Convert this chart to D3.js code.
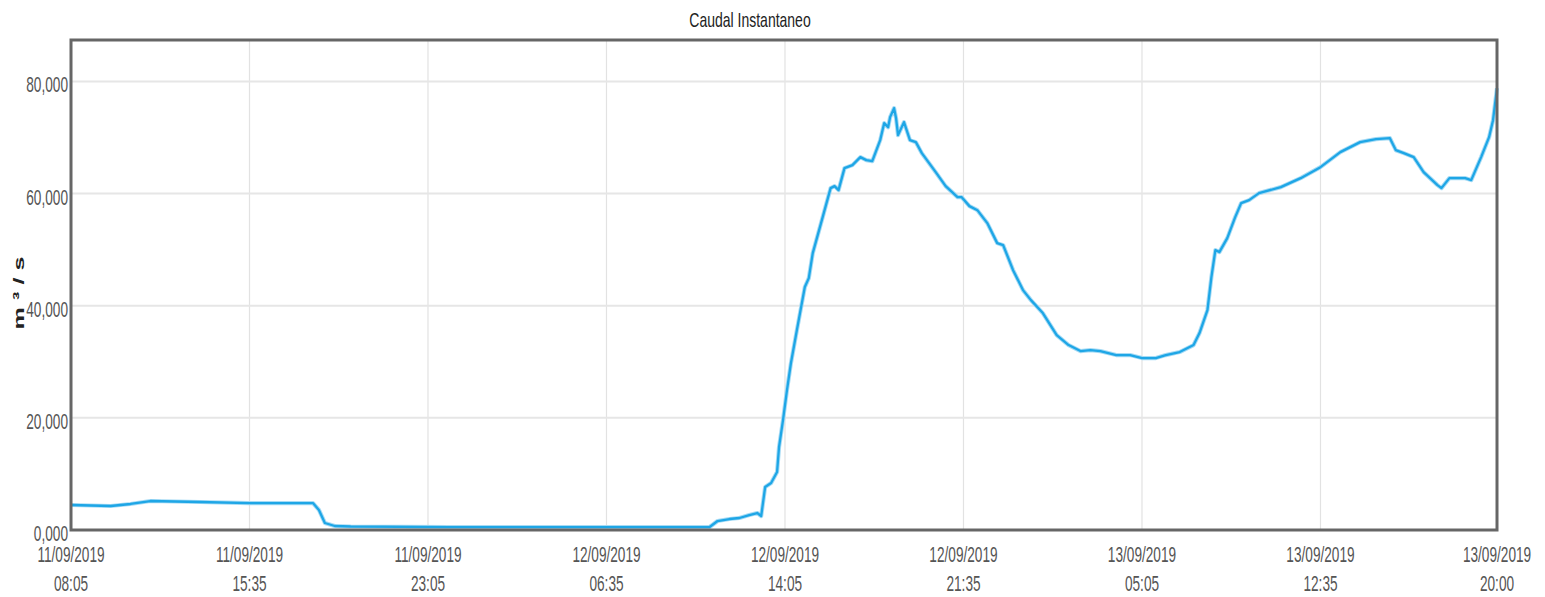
<!DOCTYPE html>
<html lang="en">
    <head>
        <meta charset="utf-8">
        <title>Caudal Instantaneo</title>
        <script type="text/javascript" src="https://cdn.jsdelivr.net/npm/d3@7/dist/d3.min.js"></script>
        <style>
            body { margin: 0; background: #fff; }
            text { font-family: "Liberation Sans", Arial, sans-serif; fill: #555; }
        </style>
    </head>
    <body>
        <script type="text/javascript">

            //data: minutes after 11/09/2019 08:05 and flow (m3/s)
            var flowMinutes = [0, 100, 150, 200, 325, 450, 575, 610, 625, 640, 665, 705, 955, 1335, 1610,
                1630, 1660, 1685, 1710, 1730, 1740, 1750, 1765, 1780, 1785, 1795, 1805, 1815, 1830, 1850,
                1860, 1870, 1895, 1915, 1925, 1935, 1950, 1970, 1990, 2005, 2020, 2040, 2050, 2060, 2065,
                2075, 2080, 2085, 2100, 2115, 2130, 2145, 2180, 2205, 2235, 2245, 2265, 2285, 2310, 2335,
                2350, 2375, 2400, 2420, 2450, 2485, 2515, 2545, 2570, 2595, 2635, 2670, 2700, 2735, 2760,
                2795, 2830, 2845, 2865, 2875, 2885, 2895, 2915, 2935, 2950, 2970, 2995, 3050, 3100, 3150,
                3200, 3250, 3290, 3325, 3340, 3360, 3385, 3410, 3445, 3455, 3475, 3515, 3530, 3555, 3575,
                3585, 3595];
            var flowValues = [4460, 4280, 4640, 5170, 4990, 4810, 4810, 4810, 3570, 1250, 710, 620, 530, 530, 530,
                1600, 1960, 2140, 2670, 3030, 2500, 7670, 8380, 10340, 14800, 19610, 24960, 29780, 35660, 43330,
                44930, 49390, 55810, 60980, 61340, 60620, 64550, 65080, 66510, 65970, 65790, 69540, 72570, 71850, 73640,
                75240, 73460, 70430, 72750, 69540, 69180, 67220, 63830, 61340, 59380, 59380, 57770, 57050, 54740, 51170,
                50810, 46350, 42790, 41000, 38690, 34770, 32990, 31910, 32090, 31910, 31200, 31200, 30670, 30670, 31200,
                31740, 32990, 35130, 39230, 45110, 49920, 49570, 52060, 55810, 58300, 58840, 60090, 61160, 62760, 64720,
                67400, 69180, 69720, 69890, 67750, 67220, 66510, 63830, 61520, 60980, 62760, 62760, 62410, 66510, 70070,
                73100, 78810];

            //axis ticks
            var xTickDates = ["11/09/2019", "11/09/2019", "11/09/2019", "12/09/2019", "12/09/2019",
                "12/09/2019", "13/09/2019", "13/09/2019", "13/09/2019"];
            var xTickTimes = ["08:05", "15:35", "23:05", "06:35", "14:05", "21:35", "05:05", "12:35", "20:00"];
            var yTickValues = [0, 20000, 40000, 60000, 80000];
            var yTickLabels = ["0,000", "20,000", "40,000", "60,000", "80,000"];

            var svgWidth = 1545;
            var svgHeight = 597;
            var plotLeft = 71, plotTop = 40, plotRight = 1497, plotBottom = 530;
            var squeeze = 0.62;

            var svg = d3.select("body")
                        .append("svg")
                        .attr("width", svgWidth)
                        .attr("height", svgHeight);

            var parseTick = d3.timeParse("%d/%m/%Y %H:%M");
            var startTime = parseTick(xTickDates[0] + " " + xTickTimes[0]);
            var tickTimes = xTickDates.map(function(d, i) {
                return parseTick(d + " " + xTickTimes[i]);
            });

            var data = flowMinutes.map(function(m, i) {
                return { time: d3.timeMinute.offset(startTime, m), value: flowValues[i] };
            });

            var xScale = d3.scaleTime()
                           .domain([startTime, tickTimes[tickTimes.length - 1]])
                           .range([plotLeft, plotRight]);

            var yScale = d3.scaleLinear()
                           .domain([0, 87400])
                           .range([plotBottom, plotTop]);

            //grid
            svg.selectAll(".vgrid")
                .data(tickTimes.slice(1, -1))
                .enter()
                .append("line")
                .attr("x1", function(d) { return xScale(d); })
                .attr("x2", function(d) { return xScale(d); })
                .attr("y1", plotTop)
                .attr("y2", plotBottom)
                .attr("stroke", "#e2e2e2")
                .attr("stroke-width", 1.2);

            svg.selectAll(".hgrid")
                .data(yTickValues.slice(1))
                .enter()
                .append("line")
                .attr("x1", plotLeft)
                .attr("x2", plotRight)
                .attr("y1", function(d) { return yScale(d); })
                .attr("y2", function(d) { return yScale(d); })
                .attr("stroke", "#e6e6e6")
                .attr("stroke-width", 2);

            //line
            var line = d3.line()
                         .x(function(d) { return xScale(d.time); })
                         .y(function(d) { return yScale(d.value); });

            svg.append("path")
                .datum(data)
                .attr("d", line)
                .attr("fill", "none")
                .attr("stroke", "#a6dbf5")
                .attr("stroke-width", 4.2)
                .attr("stroke-linejoin", "round");

            svg.append("path")
                .datum(data)
                .attr("d", line)
                .attr("fill", "none")
                .attr("stroke", "#1ea6e6")
                .attr("stroke-width", 2.3)
                .attr("stroke-linejoin", "round");

            //frame
            svg.append("rect")
                .attr("x", plotLeft)
                .attr("y", plotTop)
                .attr("width", plotRight - plotLeft)
                .attr("height", plotBottom - plotTop)
                .attr("fill", "none")
                .attr("stroke", "#666")
                .attr("stroke-width", 3);

            //y labels
            svg.selectAll(".ylab")
                .data(yTickValues)
                .enter()
                .append("text")
                .attr("transform", function(d) {
                    return "translate(68," + (yScale(d) + 11) + ") scale(" + squeeze + ",1)";
                })
                .attr("text-anchor", "end")
                .attr("font-size", "22px")
                .text(function(d, i) { return yTickLabels[i]; });

            //x labels
            var xlab = svg.selectAll(".xlab")
                .data(tickTimes)
                .enter()
                .append("g")
                .attr("transform", function(d) { return "translate(" + xScale(d) + ",0)"; });

            xlab.append("text")
                .attr("transform", "translate(0,562) scale(" + squeeze + ",1)")
                .attr("text-anchor", "middle")
                .attr("font-size", "22px")
                .text(function(d, i) { return xTickDates[i]; });

            xlab.append("text")
                .attr("transform", "translate(0,591) scale(" + squeeze + ",1)")
                .attr("text-anchor", "middle")
                .attr("font-size", "22px")
                .text(function(d, i) { return xTickTimes[i]; });

            //title
            svg.append("text")
                .attr("transform", "translate(750,27) scale(0.7,1)")
                .attr("text-anchor", "middle")
                .attr("font-size", "20px")
                .style("fill", "#222")
                .text("Caudal Instantaneo");

            //y axis title
            svg.append("text")
                .attr("transform", "translate(24,293) rotate(-90) scale(1," + squeeze + ")")
                .attr("text-anchor", "middle")
                .attr("font-size", "25px")
                .attr("font-weight", "bold")
                .attr("textLength", 73)
                .attr("lengthAdjust", "spacing")
                .style("fill", "#222")
                .text("m³/s");

        </script>
    </body>
</html>
